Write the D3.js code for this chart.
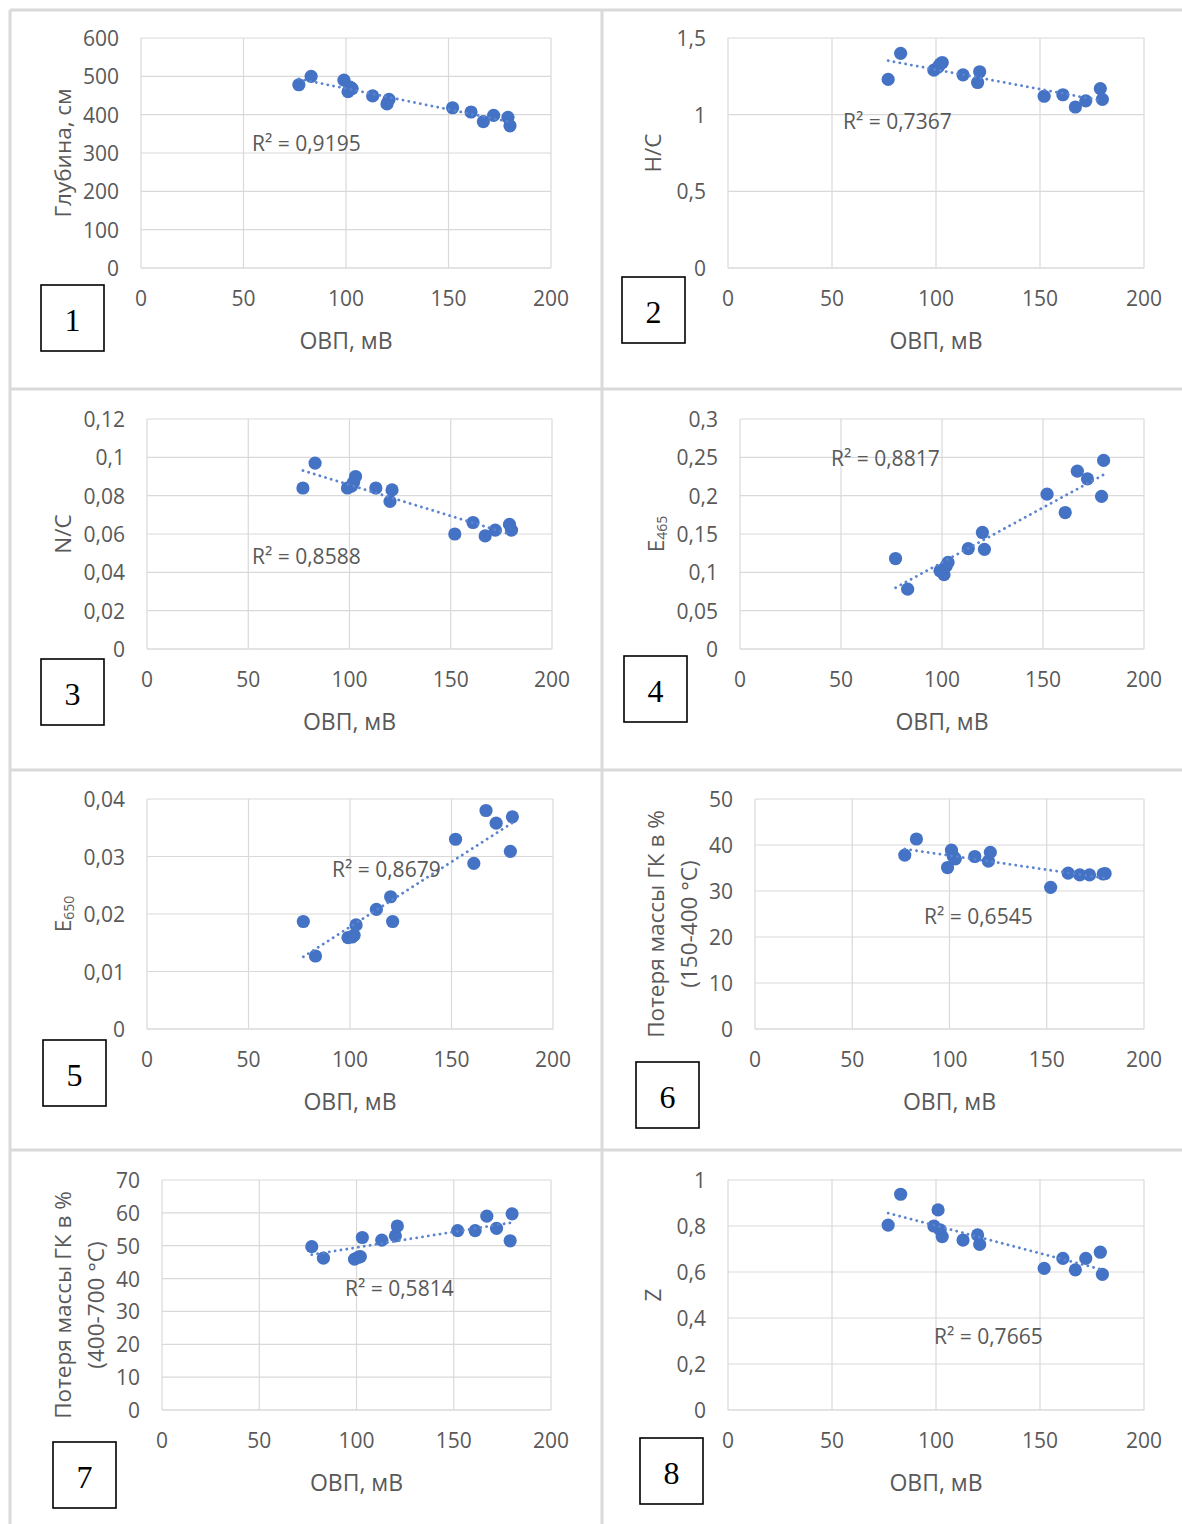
<!DOCTYPE html>
<html>
<head>
<meta charset="utf-8">
<script src="https://cdn.jsdelivr.net/npm/d3@7"></script>
<style>
  body { margin: 0; background: #fff; }
  text { font-family: "Open Sans", sans-serif; fill: #595959; }
</style>
</head>
<body>
<div id="wrapper"></div>
<script>
// ОВП, мВ (same samples in every panel)
const ovp = [77, 83, 99, 101, 102, 103, 113, 120, 121, 152, 161, 167, 172, 179, 180]

const depth   = [478, 500, 490, 460, 472, 468, 449, 428, 440, 418, 407, 382, 398, 393, 371]
const hc      = [1.23, 1.40, 1.29, 1.31, 1.33, 1.34, 1.26, 1.21, 1.28, 1.12, 1.13, 1.05, 1.09, 1.17, 1.10]
const nc      = [0.084, 0.097, 0.084, 0.085, 0.087, 0.090, 0.084, 0.077, 0.083, 0.060, 0.066, 0.059, 0.062, 0.065, 0.062]
const e465    = [0.118, 0.078, 0.102, 0.097, 0.108, 0.113, 0.131, 0.152, 0.130, 0.202, 0.178, 0.232, 0.222, 0.199, 0.246]
const e650    = [0.0187, 0.0127, 0.0159, 0.0160, 0.0163, 0.0181, 0.0208, 0.0230, 0.0187, 0.0330, 0.0288, 0.0380, 0.0358, 0.0309, 0.0369]
const loss150 = [37.8, 41.3, 35.1, 38.9, 37.5, 37.0, 37.5, 36.5, 38.4, 30.8, 33.9, 33.5, 33.5, 33.7, 33.8]
const loss400 = [49.7, 46.2, 45.9, 46.5, 46.7, 52.5, 51.7, 53.0, 56.0, 54.6, 54.6, 59.0, 55.3, 51.5, 59.7]
const zVals   = [0.804, 0.938, 0.800, 0.870, 0.783, 0.754, 0.739, 0.761, 0.720, 0.616, 0.659, 0.609, 0.659, 0.686, 0.590]

const seriesList = [depth, hc, nc, e465, e650, loss150, loss400, zVals]
const r2Labels = ["R² = 0,9195", "R² = 0,7367", "R² = 0,8588", "R² = 0,8817", "R² = 0,8679", "R² = 0,6545", "R² = 0,5814", "R² = 0,7665"]
const panelNumbers = ["1", "2", "3", "4", "5", "6", "7", "8"]
const xTitle = "ОВП, мВ"
const yTitles = [
  ["Глубина, см"], ["H/C"], ["N/C"], ["E|465"], ["E|650"],
  ["Потеря массы ГК в %", "(150-400 °C)"],
  ["Потеря массы ГК в %", "(400-700 °C)"],
  ["Z"]
]
const xTicks = [0, 50, 100, 150, 200]
const yTicksList = [
  [0, 100, 200, 300, 400, 500, 600],
  [0, 0.5, 1, 1.5],
  [0, 0.02, 0.04, 0.06, 0.08, 0.1, 0.12],
  [0, 0.05, 0.1, 0.15, 0.2, 0.25, 0.3],
  [0, 0.01, 0.02, 0.03, 0.04],
  [0, 10, 20, 30, 40, 50],
  [0, 10, 20, 30, 40, 50, 60, 70],
  [0, 0.2, 0.4, 0.6, 0.8, 1]
]

// layout of each panel on the page
const layout = [
  { l: 141, r: 551, t: 38, b: 268, ty: 62, box: [41, 285], r2: [252, 143] },
  { l: 728, r: 1144, t: 38, b: 268, ty: 652, box: [622, 277], r2: [843, 121] },
  { l: 147, r: 552, t: 419, b: 649, ty: 62, box: [41, 659], r2: [252, 556] },
  { l: 740, r: 1144, t: 419, b: 649, ty: 655, box: [624, 656], r2: [831, 458] },
  { l: 147, r: 553, t: 799, b: 1029, ty: 62, box: [43, 1040], r2: [332, 869] },
  { l: 755, r: 1144, t: 799, b: 1029, ty: 655, box: [636, 1062], r2: [924, 916] },
  { l: 162, r: 551, t: 1180, b: 1410, ty: 62, box: [53, 1442], r2: [345, 1288] },
  { l: 728, r: 1144, t: 1180, b: 1410, ty: 652, box: [640, 1438], r2: [934, 1336] }
]

const fmt = v => String(+v.toFixed(4)).replace(".", ",")

const svg = d3.select("#wrapper")
  .append("svg")
  .attr("width", 1182)
  .attr("height", 1524)

// table cell borders
const borderColor = "#d9d9d9"
const borders = [
  [10, 10, 1182, 10], [10, 389, 1182, 389], [10, 770, 1182, 770], [10, 1150, 1182, 1150],
  [10, 10, 10, 1524], [602, 10, 602, 1524]
]
borders.forEach(b => {
  svg.append("line")
    .attr("x1", b[0]).attr("y1", b[1]).attr("x2", b[2]).attr("y2", b[3])
    .attr("stroke", borderColor).attr("stroke-width", 3)
})

const linearFit = (xs, ys) => {
  const mx = d3.mean(xs), my = d3.mean(ys)
  let num = 0, den = 0
  xs.forEach((x, i) => { num += (x - mx) * (ys[i] - my); den += (x - mx) * (x - mx) })
  const k = num / den
  return x => my + k * (x - mx)
}

seriesList.forEach((ys, p) => {
  const L = layout[p]
  const yTicks = yTicksList[p]
  const xScale = d3.scaleLinear().domain([0, 200]).range([L.l, L.r])
  const yScale = d3.scaleLinear().domain([0, d3.max(yTicks)]).range([L.b, L.t])
  const g = svg.append("g")

  // gridlines
  g.append("g").selectAll("line").data(yTicks).join("line")
    .attr("x1", L.l).attr("x2", L.r)
    .attr("y1", d => yScale(d)).attr("y2", d => yScale(d))
    .attr("stroke", d => d === 0 ? "#c8c8c8" : "#d9d9d9").attr("stroke-width", 1.2)
  g.append("g").selectAll("line").data(xTicks).join("line")
    .attr("y1", L.t).attr("y2", L.b)
    .attr("x1", d => xScale(d)).attr("x2", d => xScale(d))
    .attr("stroke", "#d9d9d9").attr("stroke-width", 1.2)

  // tick labels
  g.append("g").selectAll("text").data(xTicks).join("text")
    .attr("x", d => xScale(d)).attr("y", L.b + 30)
    .attr("text-anchor", "middle").attr("dominant-baseline", "central")
    .style("font-size", "21px")
    .text(fmt)
  g.append("g").selectAll("text").data(yTicks).join("text")
    .attr("x", L.l - 22).attr("y", d => yScale(d))
    .attr("text-anchor", "end").attr("dominant-baseline", "central")
    .style("font-size", "21px")
    .text(fmt)

  // axis titles
  g.append("text")
    .attr("x", (L.l + L.r) / 2).attr("y", L.b + 72)
    .attr("text-anchor", "middle").attr("dominant-baseline", "central")
    .style("font-size", "23px")
    .text(xTitle)

  const lines = yTitles[p]
  const cy = (L.t + L.b) / 2 + (lines.length > 1 ? 10 : 0)
  lines.forEach((ln, i) => {
    const tx = L.ty + i * 33
    const t = g.append("text")
      .attr("transform", `translate(${tx},${cy}) rotate(-90)`)
      .attr("text-anchor", "middle").attr("dominant-baseline", "central")
      .style("font-size", "22.5px")
    if (ln.includes("|")) {
      const [main, sub] = ln.split("|")
      t.append("tspan").text(main)
      t.append("tspan").attr("dy", 6).style("font-size", "14px").text(sub)
    } else {
      t.text(ln)
    }
  })

  // points
  g.append("g").selectAll("circle").data(ys).join("circle")
    .attr("cx", (d, i) => xScale(ovp[i]))
    .attr("cy", d => yScale(d))
    .attr("r", 6.6)
    .attr("fill", "#4472c4")

  // linear trendline
  const fit = linearFit(ovp, ys)
  const ext = d3.extent(ovp)
  g.append("line")
    .attr("x1", xScale(ext[0])).attr("y1", yScale(fit(ext[0])))
    .attr("x2", xScale(ext[1])).attr("y2", yScale(fit(ext[1])))
    .attr("stroke", "#5b84cf").attr("stroke-width", 2.8)
    .attr("stroke-dasharray", "0.1 5.8").attr("stroke-linecap", "round")

  g.append("text")
    .attr("x", L.r2[0]).attr("y", L.r2[1])
    .attr("dominant-baseline", "central")
    .style("font-size", "21px")
    .text(r2Labels[p])

  // panel number box
  g.append("rect")
    .attr("x", L.box[0]).attr("y", L.box[1])
    .attr("width", 63).attr("height", 66)
    .attr("fill", "none").attr("stroke", "#000").attr("stroke-width", 1.6)
  g.append("text")
    .attr("x", L.box[0] + 31.5).attr("y", L.box[1] + 35)
    .attr("text-anchor", "middle").attr("dominant-baseline", "central")
    .style("font-family", "'Liberation Serif', serif").style("font-size", "32px").style("fill", "#000")
    .text(panelNumbers[p])
})
</script>
</body>
</html>
